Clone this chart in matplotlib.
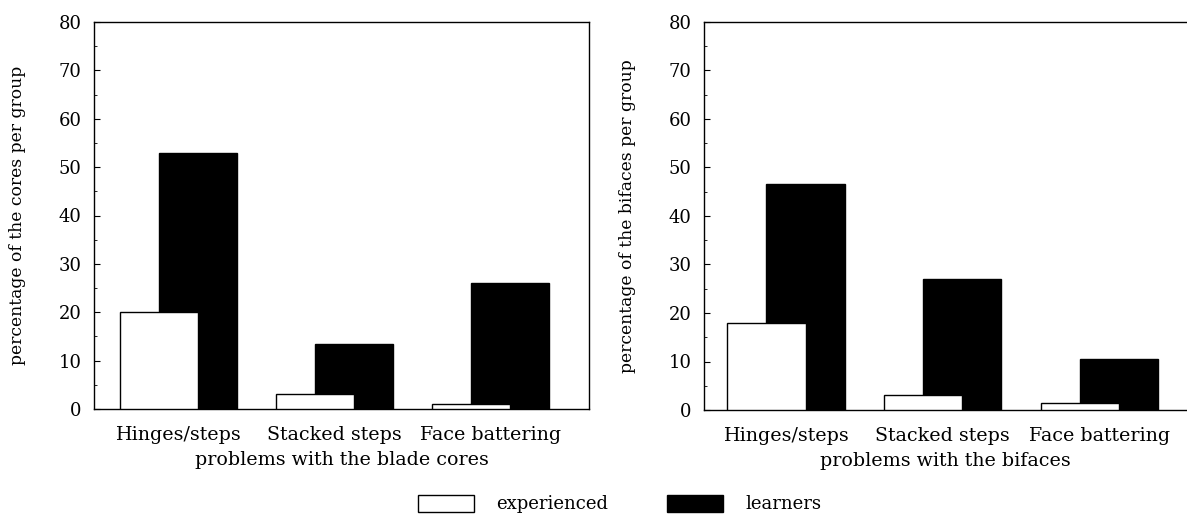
import numpy as np
import matplotlib
matplotlib.use('Agg')
import matplotlib.pyplot as plt
from matplotlib.patches import Patch
from matplotlib.ticker import MultipleLocator

plt.rcParams['font.family'] = ['DejaVu Serif']

# data
categories = ['Hinges/steps', 'Stacked steps', 'Face battering']
cores_experienced = [20, 3.2, 1.0]
cores_learners = [53, 13.5, 26]
bifaces_experienced = [18, 3.0, 1.5]
bifaces_learners = [46.5, 27, 10.5]
yticks = [0, 10, 20, 30, 40, 50, 60, 70, 80]

fig = plt.figure(figsize=(11.87, 5.19), dpi=100)

ax1 = fig.add_axes([94/1187, 1 - 409/519, (589-94)/1187, 387/519])
ax2 = fig.add_axes([704/1187, 1 - 410/519, (1187-704)/1187, 388/519])

x = np.arange(len(categories))
w = 0.5

def draw(ax, exp, learn, xlabel, ylabel, xlim):
    # black bars behind, white bars in front
    ax.bar(x + 0.125, learn, width=w, color='black', edgecolor='black', linewidth=1, zorder=2)
    ax.bar(x - 0.125, exp, width=w, color='white', edgecolor='black', linewidth=1, zorder=3)
    ax.set_xlim(*xlim)
    ax.set_ylim(0, 80)
    ax.set_yticks(yticks)
    ax.yaxis.set_minor_locator(MultipleLocator(5))
    ax.tick_params(axis='y', which='major', direction='in', length=4, labelsize=13, pad=9)
    ax.tick_params(axis='y', which='minor', direction='in', length=2)
    ax.tick_params(axis='y', right=False, which='both')
    ax.set_xticks(x)
    ax.set_xticklabels(categories, fontsize=13.7)
    ax.tick_params(axis='x', length=0, pad=12)
    ax.set_xlabel(xlabel, fontsize=13.7, labelpad=5)
    ax.set_ylabel(ylabel, fontsize=12.3)
    for s in ax.spines.values():
        s.set_linewidth(1)

draw(ax1, cores_experienced, cores_learners, 'problems with the blade cores',
     'percentage of the cores per group', (-0.54, 2.63))
draw(ax2, bifaces_experienced, bifaces_learners, 'problems with the bifaces',
     'percentage of the bifaces per group', (-0.524, 2.56))
ax2.spines['right'].set_visible(False)

ax1.yaxis.set_label_coords(-0.138, 0.5)
ax2.yaxis.set_label_coords(-0.14, 0.5)

handles = [Patch(facecolor='white', edgecolor='black', linewidth=1),
           Patch(facecolor='black', edgecolor='black', linewidth=1)]
fig.legend(handles, ['experienced', 'learners'], loc='center', ncol=2,
           bbox_to_anchor=(0.522, 0.029), frameon=False, fontsize=13,
           handlelength=3.1, handleheight=1.1, handletextpad=1.2,
           columnspacing=3.3, borderpad=0)

fig.savefig('out.png', dpi=100)
